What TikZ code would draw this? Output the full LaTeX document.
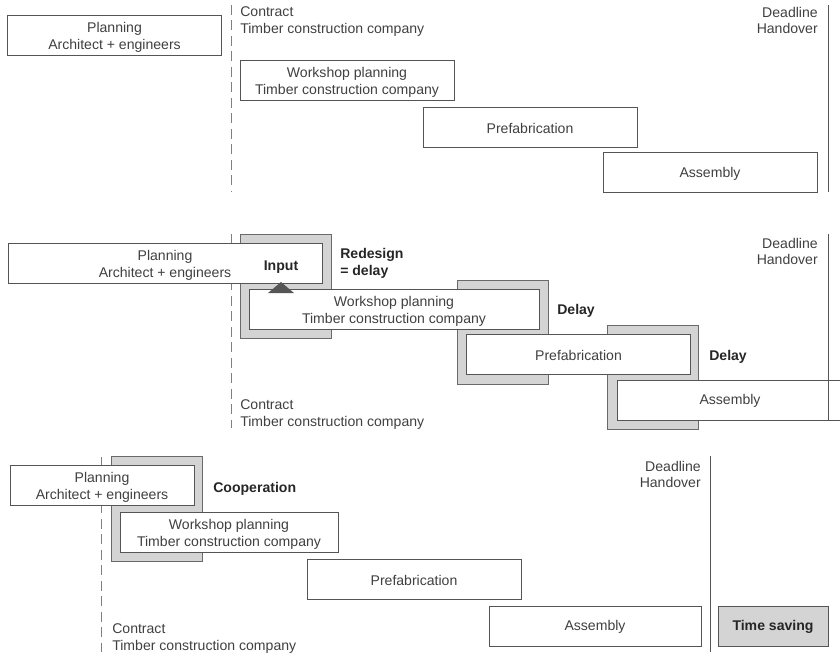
\documentclass[tikz,border=0pt]{standalone}
\usepackage{fontspec}
\setmainfont{Liberation Sans}
\definecolor{ink}{HTML}{404040}
\definecolor{edge}{HTML}{555555}
\definecolor{framedge}{HTML}{6A6A6A}
\definecolor{shade}{HTML}{D4D4D4}
\begin{document}
\begin{tikzpicture}[x=0.025cm, y=-0.025cm, every node/.style={text=ink}]
  \tikzstyle{box}=[draw=edge,fill=white,line width=0.6pt,minimum height=1cm,align=center,inner sep=0pt,execute at begin node={\rule{0pt}{9pt}}]
  \tikzstyle{two}=[execute at begin node={\rule{0pt}{22.5pt}}]
  \tikzstyle{frame}=[draw=framedge,fill=shade,line width=0.6pt,minimum width=2.275cm,minimum height=2.6cm,inner sep=0pt]
  \tikzstyle{note}=[inner sep=0pt,align=left,anchor=west]
  \tikzstyle{due}=[inner sep=0pt,align=right,anchor=east]
  \tikzstyle{tag}=[inner sep=0pt,align=left,anchor=west,font=\bfseries,text=black!85]
  \tikzstyle{dline}=[draw=gray,line width=0.6pt,dash pattern=on 7pt off 4pt]
  \tikzstyle{sline}=[draw=edge,line width=0.7pt]
  \clip (0,0) rectangle (840,652);

  % usual sequence
  \draw[dline] (231,5) -- (231,192);
  \node[box,two,minimum width=5.33cm] (plan1) at (114.5,35.5) {Planning\\Architect + engineers};
  \node[note] (con1) at (240,21.5) {Contract\\Timber construction company};
  \node[box,two,minimum width=5.35cm] (shop1) at (347,80.5) {Workshop planning\\Timber construction company};
  \node[box,minimum width=5.35cm] (pre1) at (530,127) {Prefabrication};
  \node[box,minimum width=5.35cm] (asm1) at (710,172.5) {Assembly};
  \node[due] (dl1) at (818,20.5) {Deadline\\Handover};
  \draw[sline] (828,5) -- (828,192);

  % redesign after contract
  \draw[dline] (231,234) -- (231,428);
  \node[frame] (fr1) at (285.5,286) {};
  \node[frame] (fr2) at (502.5,332) {};
  \node[frame] (fr3) at (653,377) {};
  \node[box,two,minimum width=7.85cm] (plan2) at (165,263.5) {Planning\\Architect + engineers};
  \node[font=\bfseries,text=black!85,inner sep=0pt] (inp) at (281,267) {Input};
  \node[box,two,minimum width=7.25cm] (shop2) at (394,309.5) {Workshop planning\\Timber construction company};
  \fill[edge] (268,293) -- (281,282) -- (294,293) -- cycle;
  \node[box,minimum width=5.58cm] (pre2) at (578.5,354.5) {Prefabrication};
  \node[box,minimum width=5.65cm] (asm2) at (730,400) {Assembly};
  \node[tag] (red) at (340,263.5) {Redesign\\= delay};
  \node[tag] (del1) at (557,311) {Delay};
  \node[tag] (del2) at (709,357) {Delay};
  \node[note] (con2) at (240,414.5) {Contract\\Timber construction company};
  \node[due] (dl2) at (818,251.5) {Deadline\\Handover};
  \draw[sline] (828,234) -- (828,420);

  % cooperation
  \draw[dline] (101,457) -- (101,652);
  \node[frame,minimum height=2.625cm] (fr4) at (156.5,508.5) {};
  \node[box,two,minimum width=4.6cm] (plan3) at (102,485.5) {Planning\\Architect + engineers};
  \node[box,two,minimum width=5.45cm] (shop3) at (229,532.5) {Workshop planning\\Timber construction company};
  \node[tag] (coop) at (213,489) {Cooperation};
  \node[box,minimum width=5.35cm] (pre3) at (414,579) {Prefabrication};
  \node[box,minimum width=5.3cm] (asm3) at (595,626) {Assembly};
  \node[box,fill=shade,minimum width=2.75cm,font=\bfseries,text=black!85] (save) at (773,626) {Time saving};
  \node[note] (con3) at (112,638.5) {Contract\\Timber construction company};
  \node[due] (dl3) at (701,474.5) {Deadline\\Handover};
  \draw[sline] (710,456) -- (710,652);
\end{tikzpicture}
\end{document}
